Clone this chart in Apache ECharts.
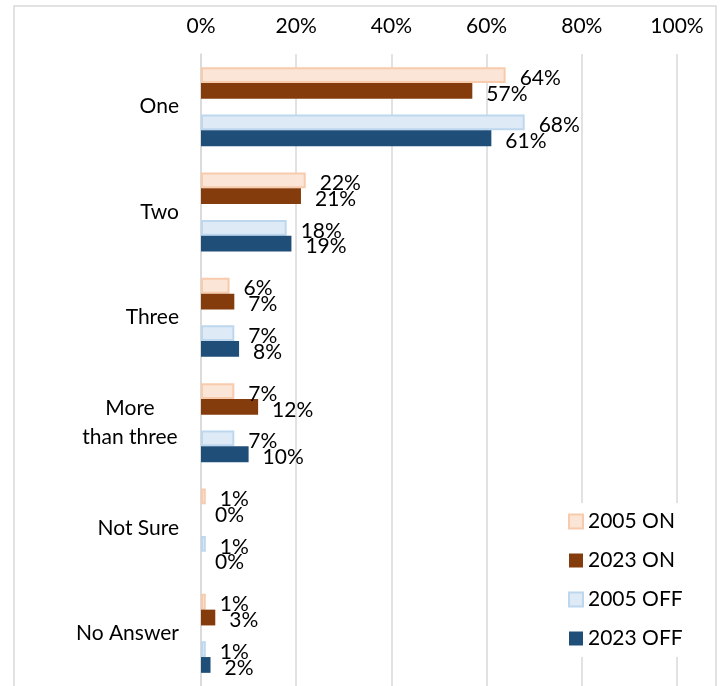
<!DOCTYPE html>
<html>
<head>
<meta charset="utf-8">
<script src="https://cdn.jsdelivr.net/npm/echarts@6/dist/echarts.min.js"></script>
<style>
html,body{margin:0;padding:0;background:#fff;}
#chart{width:726px;height:686px;}
</style>
</head>
<body>
<div id="chart"></div>
<script>
const categories = ['One', 'Two', 'Three', 'More than three', 'Not Sure', 'No Answer'];
const on2005 = [64, 22, 6, 7, 1, 1];
const on2023 = [57, 21, 7, 12, 0, 3];
const off2005 = [68, 18, 7, 7, 1, 1];
const off2023 = [61, 19, 8, 10, 0, 2];
const seriesNames = ['2005 ON', '2023 ON', '2005 OFF', '2023 OFF'];
const xTicks = [0, 20, 40, 60, 80, 100];

const FONT = 'Lato';
const FS = 21;
const TXT = '#000';

const labelCfg = {
  show: true,
  position: 'right',
  distance: 14,
  offset: [0, 3],
  formatter: p => Math.round(p.value) + '%',
  fontFamily: FONT,
  fontSize: FS,
  color: TXT
};

function barSeries(name, data, fill, border) {
  return {
    name: name,
    type: 'bar',
    data: data,
    barGap: '0%',
    barCategoryGap: '25%',
    itemStyle: border ? { color: fill, borderColor: border, borderWidth: 2 } : { color: fill },
    label: labelCfg,
    emphasis: { disabled: true }
  };
}

const chart = echarts.init(document.getElementById('chart'));
chart.setOption({
  animation: false,
  backgroundColor: '#fff',
  textStyle: { fontFamily: FONT },
  graphic: [{
    type: 'rect',
    shape: { x: 14, y: 6, width: 702, height: 700 },
    style: { fill: 'none', stroke: '#d9d9d9', lineWidth: 1.5 },
    z: 100
  }],
  grid: { left: 201, right: 49, top: 54, height: 633 },
  legend: {
    data: seriesNames,
    orient: 'vertical',
    left: 560,
    top: 503,
    padding: [8, 12, 8, 8],
    backgroundColor: '#fff',
    itemWidth: 14,
    itemHeight: 14,
    itemGap: 18,
    icon: 'rect',
    textStyle: { fontFamily: FONT, fontSize: FS, color: TXT },
    selectedMode: false
  },
  xAxis: {
    type: 'value',
    position: 'top',
    min: xTicks[0],
    max: xTicks[xTicks.length - 1],
    interval: xTicks[1] - xTicks[0],
    axisLine: { show: false },
    axisTick: { show: false },
    splitLine: { show: true, lineStyle: { color: '#d9d9d9', width: 1.5 } },
    axisLabel: { formatter: '{value}%', fontFamily: FONT, fontSize: FS, color: TXT, margin: 17 }
  },
  yAxis: {
    type: 'category',
    inverse: true,
    data: categories,
    axisLine: { show: true, lineStyle: { color: '#d9d9d9', width: 1.5 } },
    axisTick: { show: false },
    axisLabel: {
      fontFamily: FONT, fontSize: FS, color: TXT, margin: 22,
      formatter: v => v === 'More than three' ? '{c|More}\n{c|than three}' : v,
      rich: { c: { fontFamily: FONT, fontSize: FS, color: TXT, width: 98, align: 'center', lineHeight: 29 } }
    }
  },
  series: [
    barSeries(seriesNames[0], on2005, '#fbe5d6', '#f8cbad'),
    barSeries(seriesNames[1], on2023, '#843c0c'),
    { name: 'gap', type: 'bar', data: categories.map(() => '-'), barGap: '0%', barCategoryGap: '25%', silent: true },
    barSeries(seriesNames[2], off2005, '#deebf7', '#bdd7ee'),
    barSeries(seriesNames[3], off2023, '#1f4e79')
  ]
});
</script>
</body>
</html>
